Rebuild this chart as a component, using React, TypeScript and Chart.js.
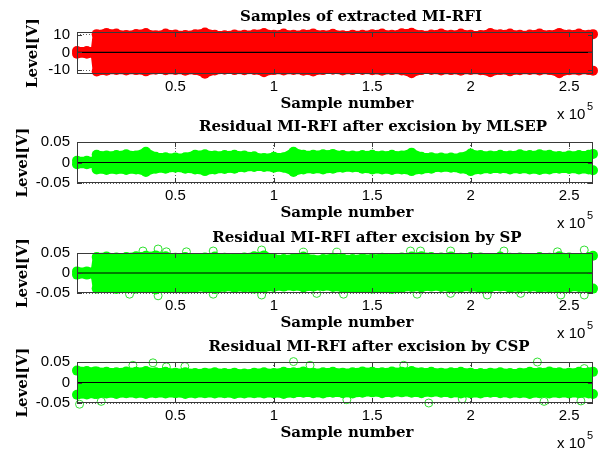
import React, { useEffect, useRef } from "react";
import { Chart, registerables } from "chart.js";

Chart.register(...registerables);

// ---------- data ----------
const sampleIdx = [
  0, 5000, 9000, 10000, 15000, 20000, 25000, 30000, 35000, 40000,
  45000, 50000, 55000, 60000, 65000, 70000, 75000, 80000, 85000, 90000,
  95000, 100000, 105000, 110000, 115000, 120000, 125000, 130000, 135000, 140000,
  145000, 150000, 155000, 160000, 165000, 170000, 175000, 180000, 185000, 190000,
  195000, 200000, 205000, 210000, 215000, 220000, 225000, 230000, 235000, 240000,
  245000, 250000, 255000, 260000, 262144,
];
const xMax = 262144;
const zeroLineX = [0, 262144];
const zeroLineY = [0, 0];
const xTickValues = [50000, 100000, 150000, 200000, 250000];
const xTickLabels = ["0.5", "1", "1.5", "2", "2.5"];

const p1YTicks = [-10, 0, 10];
const p1YLabels = ["-10", "0", "10"];
const resYTicks = [-0.05, 0, 0.05];
const resYLabels = ["-0.05", "0", "0.05"];

const titles = [
  "Samples of extracted MI-RFI",
  "Residual MI-RFI after excision by MLSEP",
  "Residual MI-RFI after excision by SP",
  "Residual MI-RFI after excision by CSP",
];
const xAxisLabel = "Sample number";
const yAxisLabel = "Level[V]";
const expBase = "x 10";
const expPower = "5";

// Panel 1: extracted MI-RFI (V)
const p1Upper = [
  0.8, 0.8, 0.8, 10.3, 11.0, 10.6, 9.8, 10.4, 10.9, 9.7,
  10.6, 10.1, 9.8, 10.2, 11.2, 10.0, 9.7, 10.1, 9.9, 10.2,
  10.9, 10.0, 10.6, 9.9, 10.2, 10.7, 9.8, 10.5, 9.7, 10.0,
  9.9, 10.3, 10.6, 9.9, 10.8, 11.1, 9.8, 10.1, 10.7, 9.9,
  10.6, 10.0, 9.8, 10.9, 10.2, 10.6, 9.9, 10.1, 10.7, 9.8,
  11.0, 10.1, 10.6, 10.0, 10.3,
];
const p1Lower = [
  -0.8, -0.8, -0.8, -10.8, -10.3, -9.9, -10.2, -10.0, -10.7, -9.8,
  -10.1, -9.9, -10.3, -10.0, -12.0, -10.2, -9.8, -10.0, -10.1, -9.9,
  -11.2, -10.0, -10.2, -9.9, -10.3, -10.8, -10.0, -9.8, -10.2, -10.0,
  -9.9, -10.1, -10.3, -10.0, -10.2, -11.8, -10.0, -9.9, -10.2, -10.0,
  -10.3, -9.9, -10.1, -11.2, -10.0, -10.7, -10.1, -9.9, -10.2, -10.0,
  -11.8, -10.1, -10.2, -10.0, -10.3,
];

// Panel 2: residual after MLSEP (V)
const p2Upper = [
  0.004, 0.004, 0.004, 0.019, 0.017, 0.018, 0.020, 0.017, 0.026, 0.014,
  0.013, 0.012, 0.013, 0.019, 0.020, 0.017, 0.018, 0.019, 0.017, 0.015,
  0.011, 0.014, 0.013, 0.026, 0.019, 0.019, 0.020, 0.021, 0.018, 0.017,
  0.018, 0.019, 0.017, 0.019, 0.017, 0.024, 0.014, 0.013, 0.012, 0.012,
  0.013, 0.022, 0.018, 0.017, 0.019, 0.017, 0.020, 0.018, 0.020, 0.019,
  0.016, 0.017, 0.018, 0.019, 0.021,
];
const p2Lower = [
  -0.004, -0.004, -0.004, -0.017, -0.018, -0.017, -0.018, -0.017, -0.023, -0.015,
  -0.015, -0.013, -0.015, -0.017, -0.021, -0.017, -0.016, -0.015, -0.012, -0.011,
  -0.011, -0.013, -0.013, -0.023, -0.017, -0.016, -0.017, -0.015, -0.013, -0.012,
  -0.015, -0.017, -0.017, -0.018, -0.017, -0.021, -0.017, -0.015, -0.012, -0.013,
  -0.015, -0.021, -0.017, -0.016, -0.015, -0.017, -0.016, -0.017, -0.018, -0.017,
  -0.015, -0.016, -0.017, -0.017, -0.019,
];

// Panel 3: residual after SP (V)
const p3Upper = [
  0.004, 0.004, 0.004, 0.040, 0.041, 0.039, 0.040, 0.042, 0.043, 0.044,
  0.042, 0.038, 0.040, 0.037, 0.039, 0.041, 0.038, 0.037, 0.039, 0.042,
  0.044, 0.036, 0.035, 0.037, 0.041, 0.034, 0.035, 0.038, 0.036, 0.035,
  0.037, 0.036, 0.038, 0.037, 0.039, 0.041, 0.042, 0.040, 0.039, 0.041,
  0.038, 0.040, 0.039, 0.037, 0.041, 0.038, 0.039, 0.037, 0.040, 0.038,
  0.042, 0.039, 0.037, 0.040, 0.043,
];
const p3Lower = [
  -0.004, -0.004, -0.004, -0.039, -0.038, -0.040, -0.037, -0.039, -0.038, -0.041,
  -0.037, -0.038, -0.039, -0.037, -0.036, -0.040, -0.035, -0.037, -0.036, -0.039,
  -0.037, -0.035, -0.034, -0.033, -0.036, -0.034, -0.033, -0.035, -0.037, -0.038,
  -0.037, -0.039, -0.038, -0.040, -0.037, -0.035, -0.036, -0.034, -0.035, -0.037,
  -0.036, -0.035, -0.038, -0.036, -0.034, -0.037, -0.036, -0.035, -0.037, -0.036,
  -0.038, -0.036, -0.035, -0.037, -0.039,
];
const p3OutX = [
  33500, 41200, 45400, 55600, 69200, 93800, 115000, 132000, 169400, 174500,
  189800, 216900, 244100, 257700, 26700, 41200, 69200, 93800, 121800, 135400,
  172800, 189800, 208400, 225400, 245800, 257700,
];
const p3OutY = [
  0.055, 0.06, 0.053, 0.053, 0.055, 0.0575, 0.052, 0.052, 0.055, 0.055,
  0.055, 0.055, 0.053, 0.0575, -0.053, -0.057, -0.053, -0.055, -0.051, -0.053,
  -0.053, -0.051, -0.055, -0.051, -0.055, -0.055,
];

// Panel 4: residual after CSP (V)
const p4Upper = [
  0.029, 0.028, 0.027, 0.027, 0.026, 0.025, 0.027, 0.026, 0.028, 0.025,
  0.026, 0.024, 0.025, 0.023, 0.024, 0.025, 0.023, 0.024, 0.022, 0.024,
  0.025, 0.023, 0.026, 0.025, 0.027, 0.024, 0.025, 0.026, 0.024, 0.025,
  0.027, 0.026, 0.025, 0.027, 0.026, 0.028, 0.025, 0.026, 0.024, 0.025,
  0.026, 0.024, 0.023, 0.024, 0.025, 0.023, 0.024, 0.026, 0.025, 0.027,
  0.025, 0.024, 0.026, 0.025, 0.026,
];
const p4Lower = [
  -0.030, -0.029, -0.028, -0.028, -0.027, -0.028, -0.026, -0.027, -0.028, -0.026,
  -0.027, -0.026, -0.028, -0.027, -0.026, -0.027, -0.026, -0.028, -0.027, -0.026,
  -0.027, -0.026, -0.028, -0.026, -0.025, -0.026, -0.027, -0.025, -0.026, -0.027,
  -0.025, -0.024, -0.026, -0.025, -0.024, -0.025, -0.026, -0.024, -0.025, -0.026,
  -0.027, -0.026, -0.027, -0.025, -0.026, -0.027, -0.026, -0.028, -0.026, -0.027,
  -0.026, -0.027, -0.026, -0.027, -0.028,
];
const p4OutX = [
  28400, 38600, 45400, 54800, 110000, 118400, 166000, 233900, 257700,
  1300, 12300, 137100, 178700, 195700, 237300, 256000,
];
const p4OutY = [
  0.042, 0.048, 0.038, 0.039, 0.051, 0.042, 0.042, 0.05, 0.034,
  -0.053, -0.046, -0.042, -0.05, -0.04, -0.046, -0.045,
];

// ---------- layout / style ----------
type PanelCfg = {
  title: string;
  titleX: number;
  yTitleX: number;
  upper: number[];
  lower: number[];
  outX: number[];
  outY: number[];
  color: string;
  ring: string;
  yMin: number;
  yMax: number;
  yTicks: number[];
  yLabels: string[];
  top: number;
  bottom: number;
};

const RED = "#ff0000";
const GREEN = "#00ff00";

const panels: PanelCfg[] = [
  { title: titles[0], titleX: 361, yTitleX: 33, upper: p1Upper, lower: p1Lower, outX: [], outY: [], color: RED, ring: "#ff4040",
    yMin: -12.2, yMax: 11.5, yTicks: p1YTicks, yLabels: p1YLabels, top: 32, bottom: 74 },
  { title: titles[1], titleX: 373, yTitleX: 23, upper: p2Upper, lower: p2Lower, outX: [], outY: [], color: GREEN, ring: "#30e030",
    yMin: -0.05, yMax: 0.05, yTicks: resYTicks, yLabels: resYLabels, top: 142, bottom: 183 },
  { title: titles[2], titleX: 367, yTitleX: 23, upper: p3Upper, lower: p3Lower, outX: p3OutX, outY: p3OutY, color: GREEN, ring: "#30e030",
    yMin: -0.05, yMax: 0.05, yTicks: resYTicks, yLabels: resYLabels, top: 253, bottom: 293 },
  { title: titles[3], titleX: 369, yTitleX: 23, upper: p4Upper, lower: p4Lower, outX: p4OutX, outY: p4OutY, color: GREEN, ring: "#30e030",
    yMin: -0.05, yMax: 0.05, yTicks: resYTicks, yLabels: resYLabels, top: 362, bottom: 403 },
];

const SERIF_BOLD = 'bold 15px "DejaVu Serif"';
const SANS = '"Liberation Sans", Arial, sans-serif';

const zip = (xs: number[], ys: number[]) => xs.map((x, i) => ({ x, y: ys[i] }));

const decorPlugin = {
  id: "panelDecor",
  afterDatasetsDraw(chart: any, _args: any, opts: any) {
    const { ctx, chartArea: a, scales } = chart;
    ctx.save();
    // axes box
    ctx.strokeStyle = "#3a3a3a";
    ctx.lineWidth = 1;
    ctx.setLineDash([]);
    ctx.strokeRect(a.left + 0.5, a.top + 0.5, a.right - a.left - 1, a.bottom - a.top - 1);
    // inward tick marks
    const tl = 5;
    ctx.beginPath();
    for (const v of xTickValues) {
      const px = Math.round(scales.x.getPixelForValue(v)) + 0.5;
      ctx.moveTo(px, a.bottom);
      ctx.lineTo(px, a.bottom - tl);
      ctx.moveTo(px, a.top);
      ctx.lineTo(px, a.top + tl);
    }
    for (const v of opts.yTicks) {
      const py = Math.round(scales.y.getPixelForValue(v)) + 0.5;
      ctx.moveTo(a.left, py);
      ctx.lineTo(a.left + tl, py);
      ctx.moveTo(a.right, py);
      ctx.lineTo(a.right - tl, py);
    }
    ctx.stroke();
    // texts
    ctx.fillStyle = "#000";
    ctx.font = SERIF_BOLD;
    ctx.textAlign = "center";
    ctx.textBaseline = "alphabetic";
    ctx.fillText(opts.title, opts.titleX, a.top - 11);
    ctx.fillText(xAxisLabel, 347, a.bottom + 34);
    ctx.textAlign = "left";
    ctx.font = "15px " + SANS;
    ctx.fillText(expBase, 557, a.bottom + 45);
    ctx.font = "11px " + SANS;
    ctx.fillText(expPower, 587, a.bottom + 36);
    ctx.restore();
  },
};

function Panel({ cfg }: { cfg: PanelCfg }) {
  const ref = useRef<HTMLCanvasElement>(null);
  useEffect(() => {
    const canvas = ref.current;
    if (!canvas) return;
    const bandStyle = {
      borderColor: cfg.color,
      backgroundColor: cfg.color,
      borderWidth: 8,
      borderJoinStyle: "round" as const,
      borderCapStyle: "round" as const,
      pointRadius: 5,
      pointBackgroundColor: cfg.color,
      pointBorderColor: cfg.color,
      pointBorderWidth: 0,
      tension: 0,
      clip: false as any,
      order: 2,
    };
    const chart = new Chart(canvas, {
      type: "line",
      data: {
        datasets: [
          { ...bandStyle, data: zip(sampleIdx, cfg.upper), fill: "+1" } as any,
          { ...bandStyle, data: zip(sampleIdx, cfg.lower), fill: false } as any,
          {
            data: zip(cfg.outX, cfg.outY),
            showLine: false,
            pointRadius: 4,
            pointBorderWidth: 1,
            pointBorderColor: cfg.ring,
            pointBackgroundColor: "rgba(0,0,0,0)",
            borderColor: cfg.ring,
            clip: false,
            order: 3,
          } as any,
          {
            data: zip(zeroLineX, zeroLineY),
            borderColor: "#000",
            borderWidth: 1.2,
            pointRadius: 0,
            fill: false,
            order: 0,
          } as any,
        ],
      },
      options: {
        responsive: false,
        maintainAspectRatio: false,
        animation: false,
        events: [],
        layout: { padding: { left: 0, right: 7, top: cfg.top, bottom: 450 - cfg.bottom - 20 } },
        plugins: {
          legend: { display: false },
          tooltip: { enabled: false },
          title: { display: false },
          panelDecor: { title: cfg.title, titleX: cfg.titleX, yTicks: cfg.yTicks },
        } as any,
        scales: {
          x: {
            type: "linear",
            min: 0,
            max: xMax,
            afterFit: (s: any) => { s.height = 20; },
            afterBuildTicks: (s: any) => { s.ticks = xTickValues.map((v) => ({ value: v })); },
            ticks: {
              autoSkip: false,
              maxRotation: 0,
              padding: 4,
              color: "#000",
              font: { family: SANS, size: 15 },
              callback: (v: any) => xTickLabels[xTickValues.indexOf(Number(v))] ?? "",
            },
            grid: { display: true, color: "#606060", lineWidth: 1, drawTicks: false },
            border: { display: false, dash: [1, 2] },
          },
          y: {
            type: "linear",
            min: cfg.yMin,
            max: cfg.yMax,
            afterFit: (s: any) => { s.width = 77; },
            afterBuildTicks: (s: any) => { s.ticks = cfg.yTicks.map((v) => ({ value: v })); },
            ticks: {
              autoSkip: false,
              padding: 7,
              color: "#000",
              font: { family: SANS, size: 15 },
              callback: (v: any) => cfg.yLabels[cfg.yTicks.indexOf(Number(v))] ?? "",
            },
            grid: { display: true, color: "#606060", lineWidth: 1, drawTicks: false },
            border: { display: false, dash: [1, 2] },
            title: {
              display: true,
              text: yAxisLabel,
              color: "#000",
              font: { family: "DejaVu Serif", weight: "bold", size: 15 },
              padding: { top: cfg.yTitleX - 9, bottom: 0 },
            },
          },
        },
      },
      plugins: [decorPlugin as any],
    });
    return () => chart.destroy();
  }, [cfg]);
  return (
    <canvas
      ref={ref}
      width={600}
      height={450}
      style={{ position: "absolute", left: 0, top: 0, width: 600, height: 450 }}
    />
  );
}

export default function App() {
  return (
    <div style={{ position: "absolute", left: 0, top: 0, width: 600, height: 450, background: "#fff", overflow: "hidden" }}>
      {panels.map((p, i) => (
        <Panel key={i} cfg={p} />
      ))}
    </div>
  );
}
